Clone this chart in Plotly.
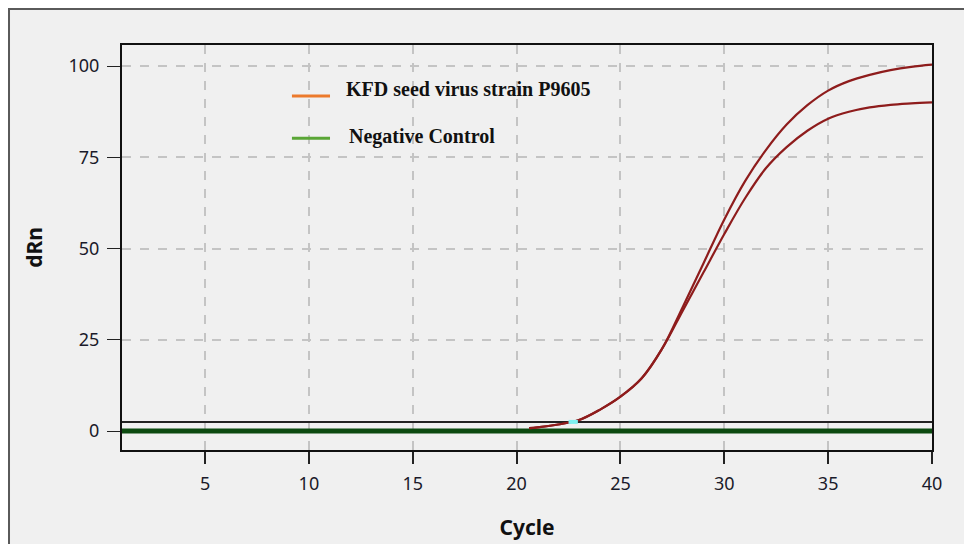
import plotly.graph_objects as go

# ---- data ----
cycles_a = [20.6, 21, 22, 23, 24, 25, 26, 27, 28, 29, 30, 31, 32, 33, 34, 35, 36, 37, 38, 39, 40]
drn_upper = [0.8, 1.0, 1.8, 3.0, 5.8, 9.4, 14.3, 22.5, 34.0, 46.0, 58.0, 68.5, 77.0, 84.0, 89.3, 93.3, 95.9, 97.6, 98.9, 99.8, 100.4]
drn_lower = [0.8, 1.0, 1.8, 3.0, 5.8, 9.4, 14.3, 22.5, 33.0, 43.5, 54.0, 63.8, 72.0, 77.8, 82.3, 85.6, 87.5, 88.7, 89.4, 89.8, 90.1]
neg_cycles = [1, 40]
neg_drn = [0, 0]
threshold_cycles = [1, 40]
threshold_drn = [2.5, 2.5]
ct_cycles = [22.5, 22.95]
ct_drn = [2.5, 2.5]
x_ticks = [5, 10, 15, 20, 25, 30, 35, 40]
y_ticks = [0, 25, 50, 75, 100]
legend_labels = ["KFD seed virus strain P9605", "Negative Control"]
legend_colors = ["#ec7a2c", "#5aa636"]

fig = go.Figure()

fig.add_trace(go.Scatter(x=neg_cycles, y=neg_drn, mode="lines",
                         line=dict(color="#0c4a10", width=5), showlegend=False, hoverinfo="skip"))
fig.add_trace(go.Scatter(x=threshold_cycles, y=threshold_drn, mode="lines",
                         line=dict(color="#222222", width=2), showlegend=False, hoverinfo="skip"))
for ys in (drn_upper, drn_lower):
    fig.add_trace(go.Scatter(x=cycles_a, y=ys, mode="lines", line_shape="spline",
                             line=dict(color="#8e1c1c", width=2.2), showlegend=False))
fig.add_trace(go.Scatter(x=ct_cycles, y=ct_drn, mode="lines",
                         line=dict(color="#7ff0f0", width=4), showlegend=False, hoverinfo="skip"))

# outer panel frame
fig.add_shape(type="rect", xref="paper", yref="paper",
              x0=-0.1395, x1=1.0445, y0=-0.26, y1=1.0889,
              fillcolor="#f0f0f0", line=dict(color="#5a5a5a", width=2), layer="below")

# custom legend (decorative colours differ from curves)
leg_line_y = [0.874, 0.770]
leg_text_y = [0.892, 0.774]
leg_text_x = [0.2735, 0.2775]
for lab, col, ly, ty, tx in zip(legend_labels, legend_colors, leg_line_y, leg_text_y, leg_text_x):
    fig.add_shape(type="line", xref="paper", yref="paper",
                  x0=0.2098, x1=0.2568, y0=ly, y1=ly,
                  line=dict(color=col, width=3))
    fig.add_annotation(xref="paper", yref="paper", x=tx, y=ty, xanchor="left", yanchor="middle",
                       text="<b>" + lab + "</b>", showarrow=False,
                       font=dict(family="Liberation Serif", size=20, color="#111111"))

axis_common = dict(showline=True, linecolor="#111111", linewidth=2, mirror=True,
                   showgrid=True, gridcolor="#c4c4c4", griddash="dash", gridwidth=1.5,
                   zeroline=False, ticks="outside", tickcolor="#222222", automargin=False,
                   tickfont=dict(family="Noto Sans", size=18, color="#1a1a2a"))

fig.update_xaxes(range=[1, 40], tickvals=x_ticks, ticklen=12, tickwidth=2,
                 ticklabelstandoff=4,
                 title=dict(text="<b>Cycle</b>", standoff=27,
                            font=dict(family="Noto Sans", size=21, color="#111111")),
                 **axis_common)
fig.update_yaxes(range=[-5.2, 105.8], tickvals=y_ticks, ticklen=13, tickwidth=1.2,
                 ticklabelstandoff=4,
                 title=dict(text="<b>dRn</b>", standoff=20,
                            font=dict(family="Noto Sans", size=21, color="#111111")),
                 **axis_common)

fig.update_layout(width=964, height=536,
                  margin=dict(l=114, r=40, t=37, b=94),
                  paper_bgcolor="white", plot_bgcolor="white",
                  showlegend=False)

fig.write_html("out.html")
